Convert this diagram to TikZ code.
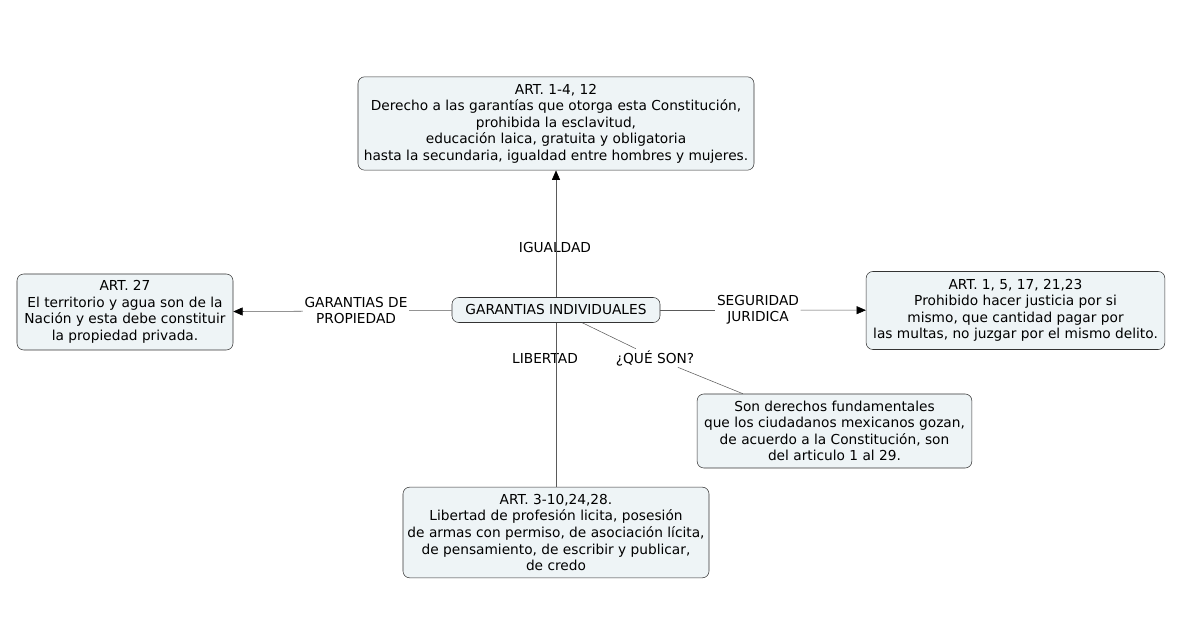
\documentclass[tikz,border=0pt]{standalone}
\usepackage{fontspec}
\setmainfont{DejaVu Sans}
\usepackage{xcolor}
\usetikzlibrary{arrows.meta,positioning,calc}
\definecolor{boxfill}{HTML}{EEF4F6}
\definecolor{boxline}{HTML}{333333}
\definecolor{linkline}{HTML}{5A5A5A}

\begin{document}
\begin{tikzpicture}[
  x=0.75pt, y=-0.75pt,
  cn/.style={draw=boxline, fill=boxfill, rounded corners=5pt, align=center, inner sep=2pt,
    font=\fontsize{10.3}{12.4}\selectfont},
  lbl/.style={align=center, inner sep=1pt, font=\fontsize{10.3}{12}\selectfont},
  lnk/.style={draw=linkline, thin},
  arr/.style={lnk, -{Triangle[length=7pt,width=6pt,black]}}
]
\useasboundingbox (0,0) rectangle (1200,630);

\node[cn, minimum width=156pt, minimum height=18.75pt] (gi) at (556,310) {GARANTIAS INDIVIDUALES};

\node[cn, minimum width=297pt, minimum height=70pt] (art1) at (556,123.5) {ART. 1-4, 12\\ Derecho a las garantías que otorga esta Constitución,\\ prohibida la esclavitud,\\ educación laica, gratuita y obligatoria\\ hasta la secundaria, igualdad entre hombres y mujeres.};

\node[cn, minimum width=162pt, minimum height=57pt] (art27) at (125,312) {ART. 27\\ El territorio y agua son de la\\ Nación y esta debe constituir\\ la propiedad privada.};

\node[cn, minimum width=224pt, minimum height=58.5pt] (art5) at (1015.5,310.5) {ART. 1, 5, 17, 21,23\\ Prohibido hacer justicia por si\\ mismo, que cantidad pagar por\\ las multas, no juzgar por el mismo delito.};

\node[cn, minimum width=206pt, minimum height=55.5pt] (son) at (834.5,431) {Son derechos fundamentales\\ que los ciudadanos mexicanos gozan,\\ de acuerdo a la Constitución, son\\ del articulo 1 al 29.};

\node[cn, minimum width=229.5pt, minimum height=68pt] (art3) at (556,532.5) {ART. 3-10,24,28.\\ Libertad de profesión licita, posesión\\ de armas con permiso, de asociación lícita,\\ de pensamiento, de escribir y publicar,\\ de credo};

% etiquetas de los enlaces
\node[lbl] (igu) at (555,248) {IGUALDAD};
\node[lbl] (prop) at (356,311) {GARANTIAS DE\\ PROPIEDAD};
\node[lbl] (seg) at (758,310) {SEGURIDAD\\ JURIDICA};
\node[lbl] (lib) at (545,358) {LIBERTAD};
\node[lbl] (que) at (655,358) {¿QUÉ SON?};

\draw[arr] (gi) -- (art1);
\draw[lnk] (gi) -- (prop);
\draw[arr] (prop) -- (art27);
\draw[lnk] (gi) -- (seg);
\draw[arr] (seg) -- (art5);
\draw[lnk] (gi) -- (art3);
\draw[lnk] (gi) -- (que);
\draw[lnk] (que) -- (son);
\end{tikzpicture}
\end{document}
